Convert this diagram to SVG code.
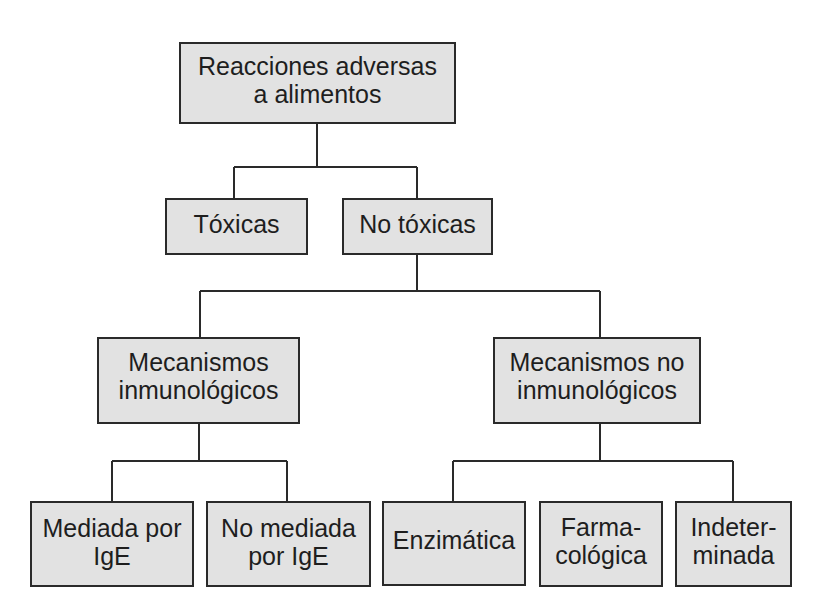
<svg xmlns="http://www.w3.org/2000/svg" width="829" height="605" viewBox="0 0 829 605">
<style>
.box{fill:#e2e2e2;stroke:#2a2a2a;stroke-width:2}
.lbl{font-family:"Liberation Sans",Arial,sans-serif;font-size:25px;fill:#1e1e1e;text-anchor:middle}
.con{fill:none;stroke:#2a2a2a;stroke-width:2}
</style>
<rect width="829" height="605" fill="#ffffff"/>
<g id="connectors">
<path class="con" d="M317,123 V167 M234,167 H417 M234,167 V199 M417,167 V199"/>
<path class="con" d="M417,254 V291 M200,291 H600 M200,291 V338 M600,291 V338"/>
<path class="con" d="M199,423 V461 M112,461 H287 M112,461 V502 M287,461 V502"/>
<path class="con" d="M600,423 V461 M453,461 H733 M453,461 V502 M733,461 V502"/>
</g>
<g id="n-root">
<rect class="box" x="180" y="43" width="275" height="80"/>
<text class="lbl" x="317.5" y="75">Reacciones adversas</text>
<text class="lbl" x="317.5" y="103">a alimentos</text>
</g>
<g id="n-toxicas">
<rect class="box" x="166" y="199" width="141" height="55"/>
<text class="lbl" x="236.5" y="233">Tóxicas</text>
</g>
<g id="n-notoxicas">
<rect class="box" x="343" y="199" width="149" height="55"/>
<text class="lbl" x="417.5" y="233">No tóxicas</text>
</g>
<g id="n-inmuno">
<rect class="box" x="98" y="338" width="201" height="85"/>
<text class="lbl" x="198.5" y="371">Mecanismos</text>
<text class="lbl" x="198.5" y="399">inmunológicos</text>
</g>
<g id="n-noinmuno">
<rect class="box" x="494" y="338" width="206" height="85"/>
<text class="lbl" x="597" y="371">Mecanismos no</text>
<text class="lbl" x="597" y="399">inmunológicos</text>
</g>
<g id="n-ige">
<rect class="box" x="31" y="502" width="162" height="84"/>
<text class="lbl" x="112" y="537">Mediada por</text>
<text class="lbl" x="112" y="565">IgE</text>
</g>
<g id="n-noige">
<rect class="box" x="207" y="502" width="163" height="84"/>
<text class="lbl" x="288.5" y="537">No mediada</text>
<text class="lbl" x="288.5" y="565">por IgE</text>
</g>
<g id="n-enzimatica">
<rect class="box" x="383" y="502" width="142" height="83"/>
<text class="lbl" x="454" y="549">Enzimática</text>
</g>
<g id="n-farma">
<rect class="box" x="540" y="502" width="122" height="84"/>
<text class="lbl" x="601" y="536">Farma-</text>
<text class="lbl" x="601" y="564">cológica</text>
</g>
<g id="n-indeter">
<rect class="box" x="676" y="502" width="115" height="84"/>
<text class="lbl" x="733.5" y="536">Indeter-</text>
<text class="lbl" x="733.5" y="564">minada</text>
</g>
</svg>
